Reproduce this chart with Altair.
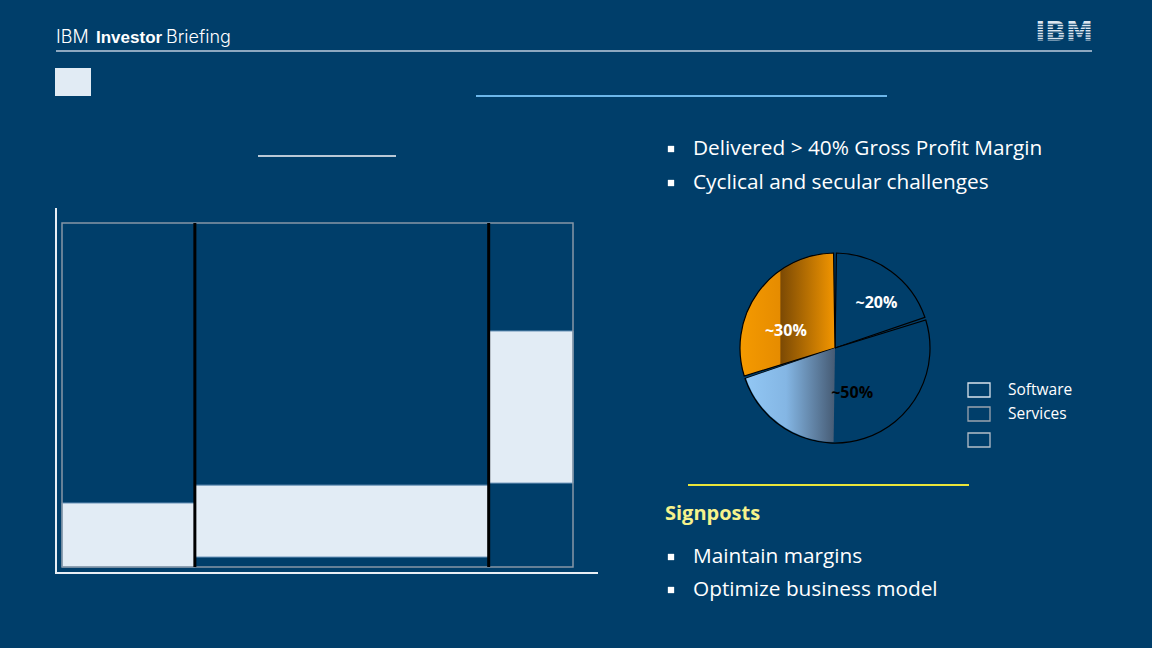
import altair as alt
import pandas as pd

W, H = 1152, 648
BG = "#003E6A"
FONT = "Open Sans"

# ---------------- data ----------------
# Mekko-style bar chart (left panel): column spans (share of width, %) and light bar extents (%)
col_start = [0, 26, 83.5]
col_end = [26, 83.5, 100]
bar_low = [0, 2.9, 24.4]
bar_high = [18.6, 23.8, 68.6]

# Pie (segment mix)
pie_labels = ["Software", "Services", "Hardware / Financing"]
pie_share = [20, 50, 30]
pie_text = ["~20%", "~50%", "~30%"]

bullets_top = ["Delivered > 40% Gross Profit Margin", "Cyclical and secular challenges"]
bullets_bottom = ["Maintain margins", "Optimize business model"]
legend_labels = ["Software", "Services"]

# ---------------- layout (pixels) ----------------
MEKKO_X = [62, 573]
MEKKO_Y = [567, 223]
PIE_CX, PIE_CY, PIE_R = 835, 348, 95
LABEL_THETA = [11.9, 44.2, 80.3]   # label placement angle (% of turn)
LABEL_R = [61, 48, 52]             # label placement radius (px)
BULLET_X, TEXT_X = 671, 693
BULLET_TOP_Y = [149, 183]
BULLET_BOT_Y = [557, 590]
LEGEND_Y = [390, 414, 440]

PXS = alt.Scale(domain=[0, W], range=[0, W])
PYS = alt.Scale(domain=[0, H], range=[0, H])


def rules(rows, color, width):
    df = pd.DataFrame(rows, columns=["x", "x2", "y", "y2"])
    return alt.Chart(df).mark_rule(color=color, strokeWidth=width).encode(
        x=alt.X("x:Q", scale=PXS, axis=None), x2="x2:Q",
        y=alt.Y("y:Q", scale=PYS, axis=None), y2="y2:Q")


def rects(rows, **kw):
    df = pd.DataFrame(rows, columns=["x", "x2", "y", "y2"])
    return alt.Chart(df).mark_rect(**kw).encode(
        x=alt.X("x:Q", scale=PXS, axis=None), x2="x2:Q",
        y=alt.Y("y:Q", scale=PYS, axis=None), y2="y2:Q")


def texts(rows, **kw):
    df = pd.DataFrame(rows, columns=["x", "y", "t"])
    return alt.Chart(df).mark_text(**kw).encode(
        x=alt.X("x:Q", scale=PXS, axis=None),
        y=alt.Y("y:Q", scale=PYS, axis=None), text="t:N")


layers = []

# header
layers.append(texts([[56, 38, "IBM"]], align="left", baseline="middle", font="Inter",
                    fontSize=18, fontWeight=300, color="white"))
layers.append(texts([[96, 38, "Investor"]], align="left", baseline="middle", font="Liberation Sans",
                    fontSize=17, fontWeight="bold", color="white"))
layers.append(texts([[166, 38, "Briefing"]], align="left", baseline="middle", font="Inter",
                    fontSize=18, fontWeight=300, color="white"))
layers.append(rules([[56, 1092, 51, 51]], "#8EA8C0", 2))

# IBM logo with stripes
layers.append(texts([[1064, 33, "IBM"]], align="center", baseline="middle", font="DejaVu Sans",
                    fontSize=27, fontWeight="bold", color="#DCE6F0"))
stripe_y = [24.3, 26.9, 29.5, 32.1, 34.7, 37.3, 39.9, 42.5]
layers.append(rules([[1030, 1098, y, y] for y in stripe_y], BG, 1.1))

# title square and lines
layers.append(rects([[55, 91, 68, 96]], color="#E1EBF4"))
layers.append(rules([[476, 887, 96, 96]], "#6CB6EA", 2))
layers.append(rules([[258, 396, 156, 156]], "#B9C8D6", 2))

# ---------------- mekko chart ----------------
MXS = alt.Scale(domain=[0, 100], range=MEKKO_X)
MYS = alt.Scale(domain=[0, 100], range=MEKKO_Y)
mek = pd.DataFrame({"x0": col_start, "x1": col_end, "y0": bar_low, "y1": bar_high})
layers.append(alt.Chart(mek).mark_rect(color="#E2ECF5", stroke="#6C95BA", strokeWidth=1).encode(
    x=alt.X("x0:Q", scale=MXS, axis=None), x2="x1:Q",
    y=alt.Y("y0:Q", scale=MYS, axis=None), y2="y1:Q"))
frame = pd.DataFrame({"x0": [0], "x1": [100], "y0": [0], "y1": [100]})
layers.append(alt.Chart(frame).mark_rect(fillOpacity=0, stroke="#8696A6", strokeWidth=1.5).encode(
    x=alt.X("x0:Q", scale=MXS, axis=None), x2="x1:Q",
    y=alt.Y("y0:Q", scale=MYS, axis=None), y2="y1:Q"))
seps = pd.DataFrame({"x": col_end[:2], "y0": [0, 0], "y1": [100, 100]})
layers.append(alt.Chart(seps).mark_rule(color="black", strokeWidth=3).encode(
    x=alt.X("x:Q", scale=MXS, axis=None),
    y=alt.Y("y0:Q", scale=MYS, axis=None), y2="y1:Q"))
# axes lines
layers.append(rules([[56, 56, 208, 574], [55, 598, 573, 573]], "#E8EEF4", 2))

# ---------------- pie ----------------
starts, ends = [], []
acc = 0
for s in pie_share:
    starts.append(acc)
    acc += s
    ends.append(acc)
pie = pd.DataFrame({"label": pie_labels, "share": pie_share, "start": starts, "end": ends,
                    "lt": LABEL_THETA, "lr": LABEL_R, "txt": pie_text})
TS = alt.Scale(domain=[0, 100], range=[0, 6.283185307])

orange = alt.LinearGradient(gradient="linear", x1=0, x2=1, y1=0, y2=0, stops=[
    alt.GradientStop(offset=0, color="#F59A00"),
    alt.GradientStop(offset=0.42, color="#E68C00"),
    alt.GradientStop(offset=0.43, color="#7C4A04"),
    alt.GradientStop(offset=1, color="#F39600")])
lightblue = alt.LinearGradient(gradient="linear", x1=0, x2=1, y1=0, y2=0, stops=[
    alt.GradientStop(offset=0, color="#92C7F4"),
    alt.GradientStop(offset=0.45, color="#84B6E4"),
    alt.GradientStop(offset=1, color="#465B74")])


def slice_layer(label, fill, stroke="black"):
    return alt.Chart(pie).transform_filter(alt.datum.label == label).mark_arc(
        radius=PIE_R, padAngle=0.03, fill=fill, stroke=stroke, strokeWidth=1.2).encode(
        theta=alt.Theta("start:Q", scale=TS), theta2="end:Q",
        x=alt.value(PIE_CX), y=alt.value(PIE_CY))


layers.append(slice_layer("Software", BG))
layers.append(slice_layer("Services", BG))
layers.append(slice_layer("Hardware / Financing", orange))
# light-blue highlight in the lower-left part of the Services slice (from 6 o'clock to its end)
hl = pd.DataFrame({"start": [50], "end": [ends[1]]})
layers.append(alt.Chart(hl).mark_arc(radius=PIE_R - 1, padAngle=0.03, fill=lightblue).encode(
    theta=alt.Theta("start:Q", scale=TS), theta2="end:Q",
    x=alt.value(PIE_CX), y=alt.value(PIE_CY)))

layers.append(alt.Chart(pie).mark_text(font=FONT, fontSize=16, fontWeight="bold").encode(
    theta=alt.Theta("lt:Q", scale=TS),
    radius=alt.Radius("lr:Q", scale=alt.Scale(type="linear", domain=[0, 100], range=[0, 100])),
    x=alt.value(PIE_CX), y=alt.value(PIE_CY), text="txt:N",
    color=alt.Color("label:N", scale=alt.Scale(domain=pie_labels, range=["white", "black", "white"]),
                    legend=None)))

# legend
layers.append(rects([[968, 990, LEGEND_Y[0] - 7, LEGEND_Y[0] + 7]], fillOpacity=0, stroke="#D8E2EC", strokeWidth=1.3))
layers.append(rects([[968, 990, LEGEND_Y[1] - 7, LEGEND_Y[1] + 7]], fillOpacity=0, stroke="#9AA4AE", strokeWidth=1.3))
layers.append(rects([[968, 990, LEGEND_Y[2] - 7, LEGEND_Y[2] + 7]], fillOpacity=0, stroke="#B4BEC8", strokeWidth=1.3))
layers.append(texts([[1008, LEGEND_Y[0], legend_labels[0]], [1008, LEGEND_Y[1], legend_labels[1]]],
                    align="left", baseline="middle", font=FONT, fontSize=15.5, color="white"))

# ---------------- bullets ----------------
bul = pd.DataFrame({"x": [BULLET_X] * 4, "y": BULLET_TOP_Y + BULLET_BOT_Y})
layers.append(alt.Chart(bul).mark_square(size=40, color="white", opacity=1).encode(
    x=alt.X("x:Q", scale=PXS, axis=None), y=alt.Y("y:Q", scale=PYS, axis=None)))
layers.append(texts([[TEXT_X, y, t] for y, t in zip(BULLET_TOP_Y + BULLET_BOT_Y, bullets_top + bullets_bottom)],
                    align="left", baseline="middle", font=FONT, fontSize=20.8, color="white"))

layers.append(rules([[688, 969, 485, 485]], "#E8E43A", 2))
layers.append(texts([[665, 514, "Signposts"]], align="left", baseline="middle", font=FONT,
                    fontSize=20, fontWeight="bold", color="#F6F28C"))

chart = alt.layer(*layers).resolve_scale(x="independent", y="independent", theta="independent",
                                         radius="independent", color="independent").properties(
    width=W, height=H, padding=0, background=BG,
    autosize=alt.AutoSizeParams(type="none")).configure_view(stroke=None)

chart.save("out.html", embed_options={"renderer": "svg", "actions": False})
